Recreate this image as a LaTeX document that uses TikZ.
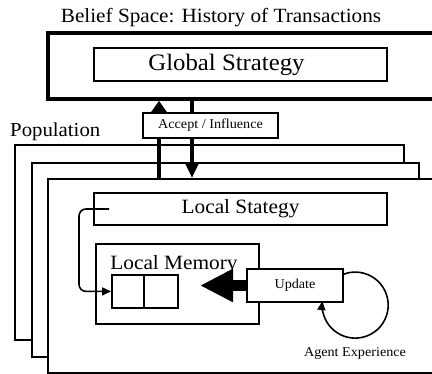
\documentclass[tikz,border=0pt]{standalone}
\usepackage{fontspec}
\setmainfont{Liberation Serif}
\usetikzlibrary{arrows.meta}
\newcommand{\wide}[1]{\scalebox{1.05}[1]{#1}}
\begin{document}
\begin{tikzpicture}[x=1pt,y=1pt,
  boxline/.style={draw=black, line width=1.8pt, fill=white, inner sep=0pt},
  thickbox/.style={draw=black, line width=3.8pt, inner sep=0pt},
  bigtext/.style={font=\fontsize{20.3}{22}\selectfont},
  smalltext/.style={font=\fontsize{13.5}{15}\selectfont},
  thinarrow/.style={draw=black, line width=1.6pt, -{Triangle[length=9pt,width=8pt]}},
  shaftup/.style={draw=black, line width=4pt, -{Triangle[length=12pt,width=16pt]}},
  shaftdown/.style={draw=black, line width=3.5pt, -{Triangle[length=14pt,width=12pt]}},
  fatarrow/.style={draw=black, line width=11pt, -{Triangle[length=33pt,width=31pt]}}]
\useasboundingbox (0,0) rectangle (432,373);
\clip (0,0) rectangle (432,373);

% Belief space
\node[font=\fontsize{20.2}{22}\selectfont] (bstitle) at (221,355) {\wide{Belief Space: History of Transactions}};
\node[thickbox, anchor=north west, minimum width=400pt, minimum height=66pt] (belief) at (46,342) {};
\node[draw=black, line width=2pt, inner sep=0pt, minimum width=293pt, minimum height=33pt,
      font=\fontsize{23.6}{25}\selectfont] (global) at (240.5,308.5) {\hspace*{-28pt}\wide{Global Strategy}};

% Population
\node[font=\fontsize{19.8}{21}\selectfont, anchor=base west, inner sep=0pt] (poplabel) at (10,236) {\wide{Population}};
\node[boxline, anchor=north west, minimum width=389pt, minimum height=195pt] (pop1) at (14,229) {};
\node[boxline, anchor=north west, minimum width=387pt, minimum height=194pt] (pop2) at (31,211) {};
\node[boxline, anchor=north west, minimum width=400pt, minimum height=194pt] (pop3) at (47,195) {};

% Accept / Influence arrows
\coordinate (upx) at (159,0);
\coordinate (dnx) at (192,0);
\draw[shaftup] (pop3.north -| upx) -- (belief.south -| upx);
\draw[shaftdown] (belief.south -| dnx) -- (pop3.north -| dnx);
\node[boxline, minimum width=135pt, minimum height=25pt, smalltext] (accept) at (210.5,247.5) {\wide{Accept / Influence}};

% Local strategy
\node[boxline, minimum width=293pt, minimum height=32pt, bigtext] (ls) at (240.5,164) {\wide{Local Stategy}};

% Local memory
\node[boxline, anchor=north west, minimum width=163pt, minimum height=80pt] (mem) at (95,130) {};
\node[bigtext, anchor=base, inner sep=0pt] (memlabel) at (174,103) {\wide{Local Memory}};
\node[boxline, anchor=north west, minimum width=32pt, minimum height=33pt] (c1) at (111,99) {};
\node[boxline, anchor=north west, minimum width=34pt, minimum height=33pt] (c2) at (143,99) {};

% Update
\node[boxline, minimum width=96pt, minimum height=33pt, smalltext] (update) at (295,87.5) {\wide{Update}};
\coordinate (fattip) at (200,87.5);
\draw[fatarrow] (update.west) -- (fattip);

% Local strategy -> memory
\coordinate (lsin) at ([xshift=16pt]ls.west);
\coordinate (lcx) at (79,0);
\draw[thinarrow, rounded corners=7pt] (lsin) -- (lsin -| lcx) -- (lcx |- c1.west) -- (c1.west);

% Agent experience loop
\draw[thinarrow] ([yshift=-6pt]update.north east) arc[start angle=110, end angle=-187, radius=33];
\node[smalltext] (agent) at (355,20) {\wide{Agent Experience}};
\end{tikzpicture}
\end{document}
